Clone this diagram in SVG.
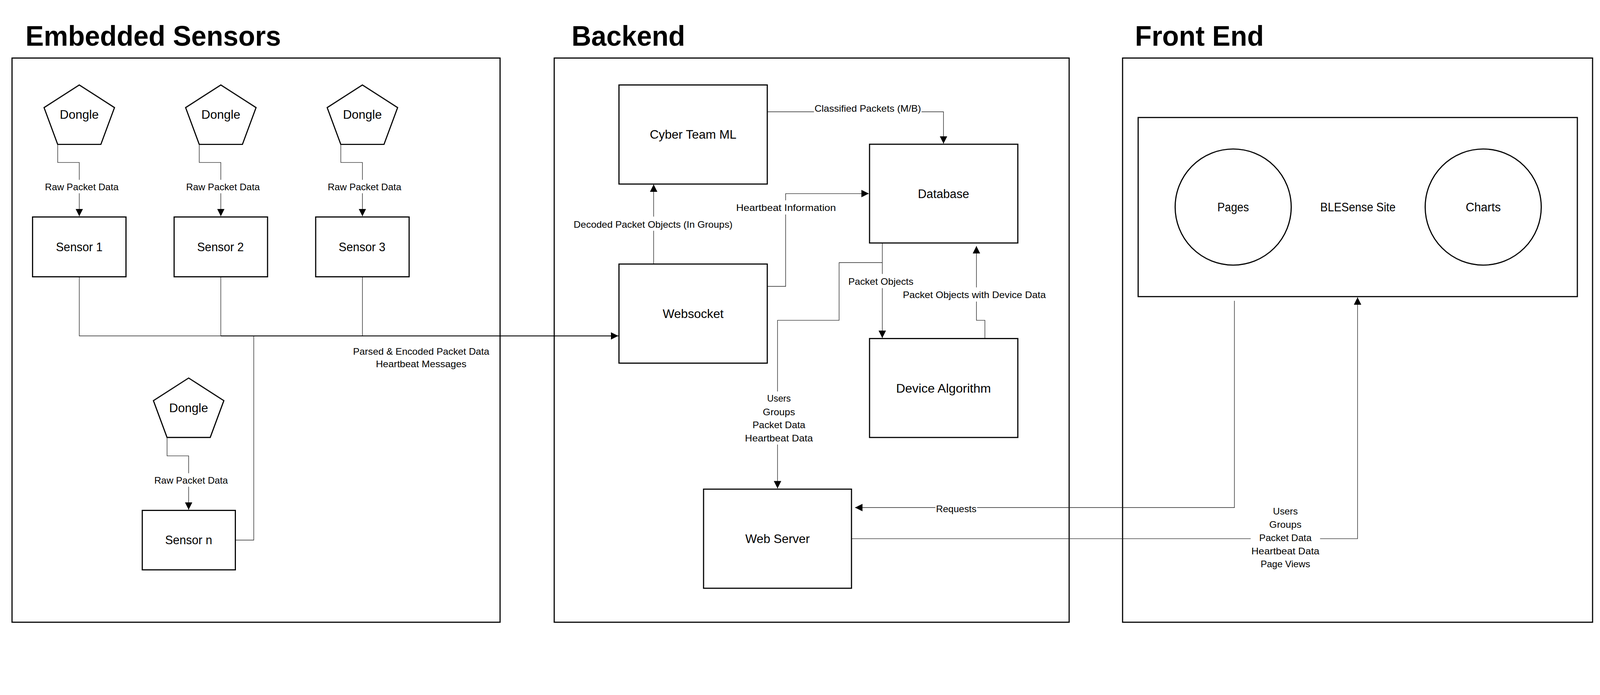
<svg xmlns="http://www.w3.org/2000/svg" width="4521" height="1779" viewBox="0 0 4521 1779" preserveAspectRatio="xMinYMin meet">
<style>
svg{width:100vw;height:100vh;display:block}
.frame{fill:none;stroke:#000;stroke-width:3.2}
.box{fill:#fff;stroke:#000;stroke-width:3.2}
.conn{fill:none;stroke:#222;stroke-width:1.5}
.main{fill:none;stroke:#000;stroke-width:2.4}
.bg{fill:#fff;stroke:none}
.title{font-family:"Liberation Sans",Arial,sans-serif;font-weight:bold;font-size:80px;fill:#000}
.nt{font-family:"Liberation Sans",Arial,sans-serif;font-size:34px;fill:#000;text-anchor:middle}
.lbl{font-family:"Liberation Sans",Arial,sans-serif;font-size:26.5px;fill:#000;text-anchor:middle}
</style>
<defs>
<marker id="arr" markerUnits="userSpaceOnUse" markerWidth="22" markerHeight="22" refX="21" refY="10.5" orient="auto">
<path d="M0,0 L21,10.5 L0,21 Z" fill="#000"/>
</marker>
</defs>
<rect width="4521" height="1779" fill="#fff"/>

<g id="frames">
<rect id="embedded-frame" class="frame" x="34" y="164" width="1379" height="1594"/>
<rect id="backend-frame" class="frame" x="1566" y="164" width="1455" height="1594"/>
<rect id="frontend-frame" class="frame" x="3172" y="164" width="1328" height="1594"/>
<text class="title" x="72" y="129" textLength="722" lengthAdjust="spacingAndGlyphs">Embedded Sensors</text>
<text class="title" x="1615" y="129" textLength="321" lengthAdjust="spacingAndGlyphs">Backend</text>
<text class="title" x="3207" y="129" textLength="364" lengthAdjust="spacingAndGlyphs">Front End</text>
</g>

<g id="connectors">
<path class="conn" d="M163,408 V459 H224 V611" marker-end="url(#arr)"/>
<path class="conn" d="M563,408 V459 H624 V611" marker-end="url(#arr)"/>
<path class="conn" d="M963,408 V459 H1024 V611" marker-end="url(#arr)"/>
<path class="conn" d="M472,1236 V1288 H533 V1440" marker-end="url(#arr)"/>
<path class="conn" d="M224,782 V949 H624"/>
<path class="conn" d="M624,782 V949"/>
<path class="conn" d="M1024,782 V949"/>
<path class="conn" d="M665,1526 H717 V949"/>
<path class="main" d="M624,949 H1747" marker-end="url(#arr)"/>
<path class="conn" d="M1847,746 V521" marker-end="url(#arr)"/>
<path class="conn" d="M2168,316 H2666 V406" marker-end="url(#arr)"/>
<path class="conn" d="M2168,809 H2220 V547 H2455" marker-end="url(#arr)"/>
<path class="conn" d="M2493,687 V955" marker-end="url(#arr)"/>
<path class="conn" d="M2783,956 V905 H2759 V695" marker-end="url(#arr)"/>
<path class="conn" d="M2493,742 H2371 V905 H2197 V1380" marker-end="url(#arr)"/>
<path class="conn" d="M3488,850 V1434 H2416" marker-end="url(#arr)"/>
<path class="conn" d="M2406,1522 H3836 V840" marker-end="url(#arr)"/>

<g id="connector-labels">
<rect class="bg" x="123" y="508" width="216" height="38"/>
<text class="lbl" x="231" y="537" textLength="208" lengthAdjust="spacingAndGlyphs">Raw Packet Data</text>
<rect class="bg" x="522" y="508" width="216" height="38"/>
<text class="lbl" x="630" y="537" textLength="208" lengthAdjust="spacingAndGlyphs">Raw Packet Data</text>
<rect class="bg" x="922" y="508" width="216" height="38"/>
<text class="lbl" x="1030" y="537" textLength="208" lengthAdjust="spacingAndGlyphs">Raw Packet Data</text>
<rect class="bg" x="432" y="1337" width="216" height="38"/>
<text class="lbl" x="540" y="1366" textLength="208" lengthAdjust="spacingAndGlyphs">Raw Packet Data</text>
<text class="lbl" x="1190" y="1002" textLength="385" lengthAdjust="spacingAndGlyphs">Parsed &amp; Encoded Packet Data</text>
<text class="lbl" x="1190" y="1038" textLength="256" lengthAdjust="spacingAndGlyphs">Heartbeat Messages</text>
<rect class="bg" x="2300" y="290" width="304" height="32"/>
<text class="lbl" x="2452" y="316" textLength="301" lengthAdjust="spacingAndGlyphs">Classified Packets (M/B)</text>
<rect class="bg" x="1617" y="612" width="457" height="40"/>
<text class="lbl" x="1845.5" y="643" textLength="449" lengthAdjust="spacingAndGlyphs">Decoded Packet Objects (In Groups)</text>
<rect class="bg" x="2076" y="566" width="290" height="40"/>
<text class="lbl" x="2221" y="596" textLength="282" lengthAdjust="spacingAndGlyphs">Heartbeat Information</text>
<rect class="bg" x="2393" y="774" width="192" height="40"/>
<text class="lbl" x="2489" y="805" textLength="184" lengthAdjust="spacingAndGlyphs">Packet Objects</text>
<rect class="bg" x="2547" y="812" width="412" height="40"/>
<text class="lbl" x="2753" y="842.5" textLength="404" lengthAdjust="spacingAndGlyphs">Packet Objects with Device Data</text>
<rect class="bg" x="2101" y="1106" width="200" height="150"/>
<text class="lbl" x="2201" y="1135" textLength="67" lengthAdjust="spacingAndGlyphs">Users</text>
<text class="lbl" x="2201" y="1173" textLength="91" lengthAdjust="spacingAndGlyphs">Groups</text>
<text class="lbl" x="2201" y="1210" textLength="149" lengthAdjust="spacingAndGlyphs">Packet Data</text>
<text class="lbl" x="2201" y="1247.5" textLength="192" lengthAdjust="spacingAndGlyphs">Heartbeat Data</text>
<rect class="bg" x="2643" y="1420" width="118" height="34"/>
<text class="lbl" x="2702" y="1447" textLength="114" lengthAdjust="spacingAndGlyphs">Requests</text>
<rect class="bg" x="3534" y="1430" width="196" height="182"/>
<text class="lbl" x="3632" y="1454" textLength="70" lengthAdjust="spacingAndGlyphs">Users</text>
<text class="lbl" x="3632" y="1491" textLength="91" lengthAdjust="spacingAndGlyphs">Groups</text>
<text class="lbl" x="3632" y="1528.5" textLength="148" lengthAdjust="spacingAndGlyphs">Packet Data</text>
<text class="lbl" x="3632" y="1566" textLength="192" lengthAdjust="spacingAndGlyphs">Heartbeat Data</text>
<text class="lbl" x="3632" y="1602.5" textLength="140" lengthAdjust="spacingAndGlyphs">Page Views</text>
</g>
</g>

<g id="dongle-1"><polygon class="box" points="224,240 323.5,304 285,408 163,408 124.5,304"/><text class="nt" x="224" y="336" textLength="110" lengthAdjust="spacingAndGlyphs">Dongle</text></g>
<g id="dongle-2"><polygon class="box" points="624,240 723.5,304 685,408 563,408 524.5,304"/><text class="nt" x="624" y="336" textLength="110" lengthAdjust="spacingAndGlyphs">Dongle</text></g>
<g id="dongle-3"><polygon class="box" points="1024,240 1123.5,304 1085,408 963,408 924.5,304"/><text class="nt" x="1024" y="336" textLength="110" lengthAdjust="spacingAndGlyphs">Dongle</text></g>
<g id="dongle-n"><polygon class="box" points="533,1068 632.5,1132 594,1236 472,1236 433.5,1132"/><text class="nt" x="533" y="1164" textLength="110" lengthAdjust="spacingAndGlyphs">Dongle</text></g>

<g id="sensor-1"><rect class="box" x="92" y="613" width="264" height="169"/><text class="nt" x="224" y="710" textLength="132" lengthAdjust="spacingAndGlyphs">Sensor 1</text></g>
<g id="sensor-2"><rect class="box" x="492" y="613" width="264" height="169"/><text class="nt" x="623" y="710" textLength="132" lengthAdjust="spacingAndGlyphs">Sensor 2</text></g>
<g id="sensor-3"><rect class="box" x="892" y="613" width="264" height="169"/><text class="nt" x="1023" y="710" textLength="132" lengthAdjust="spacingAndGlyphs">Sensor 3</text></g>
<g id="sensor-n"><rect class="box" x="402" y="1442" width="263" height="168"/><text class="nt" x="533" y="1538" textLength="133" lengthAdjust="spacingAndGlyphs">Sensor n</text></g>

<g id="cyber-team-ml"><rect class="box" x="1749" y="240" width="419" height="280"/><text class="nt" x="1958.5" y="392" textLength="245" lengthAdjust="spacingAndGlyphs">Cyber Team ML</text></g>
<g id="database"><rect class="box" x="2457" y="407.5" width="419" height="279"/><text class="nt" x="2666" y="560" textLength="145" lengthAdjust="spacingAndGlyphs">Database</text></g>
<g id="websocket"><rect class="box" x="1749" y="746" width="419" height="280"/><text class="nt" x="1958.5" y="899" textLength="172" lengthAdjust="spacingAndGlyphs">Websocket</text></g>
<g id="device-algorithm"><rect class="box" x="2457" y="956.5" width="419" height="279.5"/><text class="nt" x="2666" y="1109" textLength="268" lengthAdjust="spacingAndGlyphs">Device Algorithm</text></g>
<g id="web-server"><rect class="box" x="1988" y="1382" width="418" height="280"/><text class="nt" x="2197" y="1534" textLength="182" lengthAdjust="spacingAndGlyphs">Web Server</text></g>

<g id="blesense-site"><rect class="box" x="3216" y="332" width="1241" height="506"/><text class="nt" x="3837" y="597" textLength="213" lengthAdjust="spacingAndGlyphs">BLESense Site</text></g>
<g id="pages"><circle class="box" cx="3484.5" cy="585" r="164"/><text class="nt" x="3484.5" y="597" textLength="89" lengthAdjust="spacingAndGlyphs">Pages</text></g>
<g id="charts"><circle class="box" cx="4191" cy="585" r="164"/><text class="nt" x="4191" y="597" textLength="99" lengthAdjust="spacingAndGlyphs">Charts</text></g>
</svg>
